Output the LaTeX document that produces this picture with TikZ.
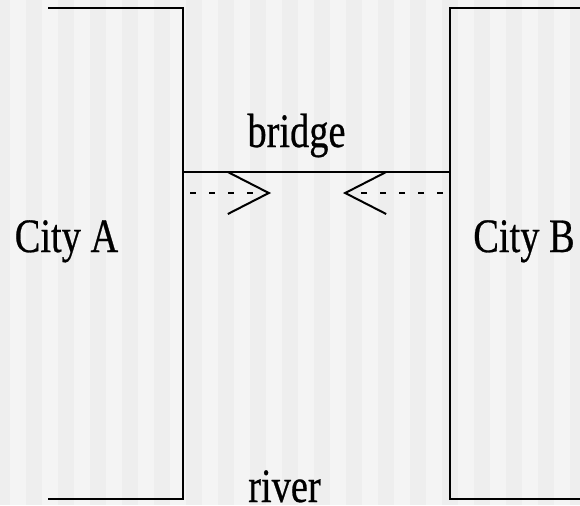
\documentclass[tikz,border=0pt]{standalone}
\usepackage{fontspec}
\setmainfont{Liberation Serif}
\newfontfamily\labelfont{Liberation Serif}[FakeBold=0.6]
\usepackage{tikz}
\usetikzlibrary{arrows.meta}

\definecolor{stripedark}{HTML}{EEEEEE}
\definecolor{stripelight}{HTML}{F4F4F4}

\begin{document}
\begin{tikzpicture}[
    x=0.5pt, y=-0.5pt,
    bank/.style={line width=1pt},
    label/.style={inner sep=0pt, anchor=base, xscale=0.8, font=\labelfont\fontsize{24pt}{28pt}\selectfont},
    crossing/.style={line width=1pt, dash pattern=on 3pt off 6.5pt,
        -{Straight Barb[length=20.5pt, width=21pt, line width=1pt]}},
]
    % background stripes
    \fill[stripedark] (0,0) rectangle (580,505);
    \useasboundingbox (0,0) rectangle (580,505);
    \foreach \i in {0,...,17}
        \fill[stripelight] (10+32*\i,0) rectangle (26+32*\i,505);

    % banks of the river
    \coordinate (aTop) at (48,8);
    \coordinate (aBot) at (48,499);
    \coordinate (bTop) at (580,8);
    \coordinate (bBot) at (580,499);
    \draw[bank] (aTop) -| (183,499) -- (aBot);
    \draw[bank] (bTop) -- (450,8) |- (bBot);

    % bridge
    \coordinate (bridgeA) at (183,172);
    \coordinate (bridgeB) at (450,172);
    \draw[bank] (bridgeA) -- (bridgeB);

    % traffic on the bridge
    \coordinate (goA) at (190,193);
    \coordinate (goAend) at (271,193);
    \coordinate (goB) at (443,193);
    \coordinate (goBend) at (343,193);
    \draw[crossing] (goA) -- (goAend);
    \draw[crossing] (goB) -- (goBend);

    \node[label] (cityA) at (66.5,252) {City A};
    \node[label] (cityB) at (524,252) {City B};
    \node[label] (bridge) at (296.5,147) {bridge};
    \node[label] (river) at (284.5,502) {river};
\end{tikzpicture}
\end{document}
